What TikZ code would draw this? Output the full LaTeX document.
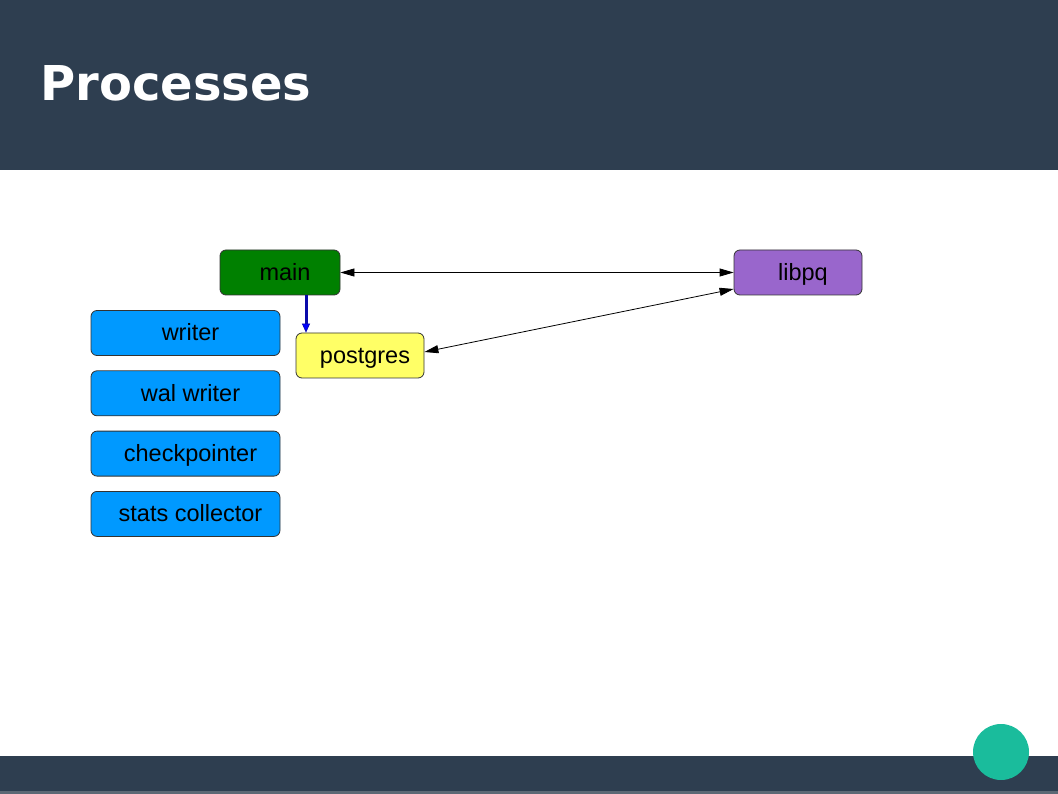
\documentclass[tikz,border=0pt]{standalone}
\usepackage{fontspec}
\setmainfont{Liberation Sans}
\newfontfamily\titlefont{DejaVu Sans}
\usetikzlibrary{arrows.meta,positioning}
\definecolor{slate}{HTML}{2E3E50}
\definecolor{slatelow}{HTML}{5C6875}
\definecolor{teal}{HTML}{1ABC9C}
\definecolor{procgreen}{HTML}{008000}
\definecolor{procpurple}{HTML}{9966CC}
\definecolor{procyellow}{HTML}{FFFF66}
\definecolor{procblue}{HTML}{0099FF}
\definecolor{edgegray}{HTML}{333333}

\begin{document}
\begin{tikzpicture}[x=1pt,y=-1pt,>={Triangle[length=14pt,width=8pt]},
  proc/.style={draw=edgegray,line width=0.8pt,rounded corners=6pt,minimum height=45pt,
    inner sep=0pt,
    label={[xshift=5pt,text height=16pt,text depth=0pt,inner sep=0pt,
      font=\fontsize{23.5}{27}\selectfont]center:#1}},
  worker/.style={proc=#1,fill=procblue,minimum width=189pt},
  link/.style={<->,line width=0.8pt}]
\useasboundingbox (0,0) rectangle (1058,794);
% slide frame
\fill[slate] (0,0) rectangle (1058,170);
\fill[slate] (0,756) rectangle (1058,794);
\fill[slatelow] (0,791) rectangle (1058,794);
\fill[teal] (1001,752) circle (28);
\node[anchor=base west,text=white,inner sep=0pt,font=\titlefont\bfseries\fontsize{48}{56}\selectfont]
  (title) at (40,101) {Processes};

% processes
\node[proc=main,fill=procgreen,minimum width=120pt]        (main)     at (280,272.5) {};
\node[proc=libpq,fill=procpurple,minimum width=128pt]      (libpq)    at (798,272.5) {};
\node[proc=postgres,fill=procyellow,minimum width=128pt]   (postgres) at (360,355.5) {};
\node[worker=writer]                                        (writer)   at (185.5,333) {};
\node[worker=wal writer,below=14.5pt of writer]             (walwriter) {};
\node[worker=checkpointer,below=14.5pt of walwriter]        (checkpointer) {};
\node[worker=stats collector,below=14.5pt of checkpointer]  (stats) {};

\draw[link] (main.east) -- (libpq.west);
\draw[link] ([yshift=3.5pt]postgres.east) -- ([yshift=-16.5pt]libpq.west);
\draw[line width=3pt,draw={rgb,255:red,10;green,10;blue,170},
  -{Triangle[length=9pt,width=8pt,fill=blue,line width=0.6pt]}]
  ([xshift=26pt]main.south) -- ([xshift=26pt]main.south |- postgres.north);
\end{tikzpicture}
\end{document}
